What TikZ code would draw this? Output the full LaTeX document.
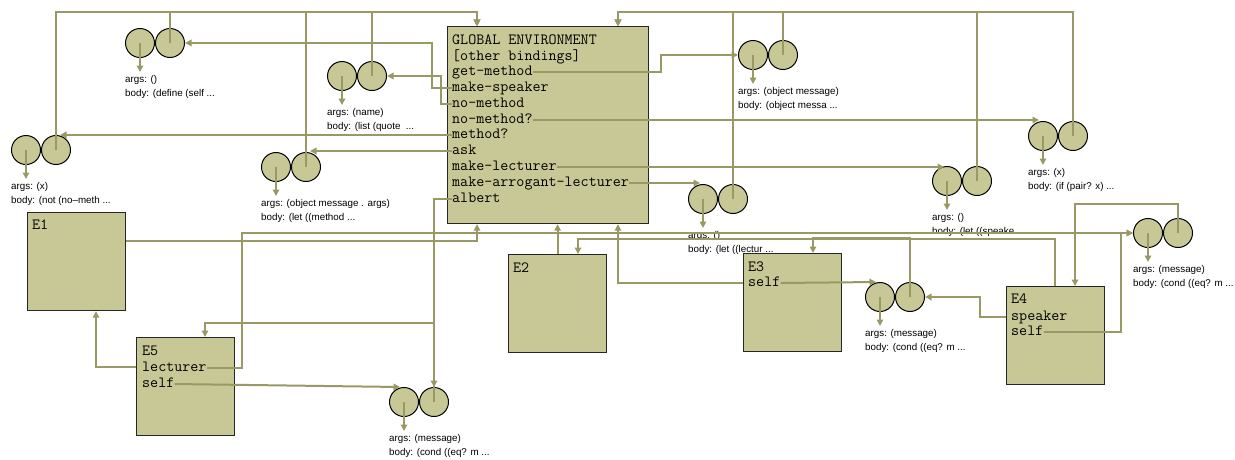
\documentclass[tikz,border=0pt]{standalone}
\usepackage{fontspec}
\setsansfont{Liberation Sans}
\usetikzlibrary{arrows.meta,calc}
\definecolor{ln}{RGB}{153,153,102}
\definecolor{fl}{RGB}{200,200,150}
\newcommand\procpair[5]{%
  \node[cell] (#1l) at (#2,#3) {};
  \node[cell] (#1r) at ($(#1l)+(30,0)$) {};
  \node[lab] (#1a) at ($(#1l)+(-15,37)$) {args: #4};
  \node[lab] (#1b) at ($(#1l)+(-15,51)$) {body: #5};
  \coordinate (#1t) at ($(#1l)+(0,29)$);
}
\begin{document}
\begin{tikzpicture}[x=1pt,y=-1pt,
  ptr/.style={draw=ln, line width=2pt, -{Triangle[length=6.5pt,width=6.5pt]}},
  frame/.style={draw=black!85, fill=fl, line width=1.2pt, minimum width=98pt, minimum height=98pt, inner sep=0pt, anchor=north west},
  cell/.style={circle, draw=black, fill=fl, line width=1pt, minimum size=29pt, inner sep=0pt},
  lab/.style={font=\sffamily\fontsize{9.8pt}{11pt}\selectfont, anchor=west, inner sep=0pt, text height=7pt, text depth=2pt},
  bind/.style={font=\ttfamily\fontsize{15.6pt}{16pt}\selectfont, anchor=west, inner sep=0pt, text height=9pt, text depth=3pt}]
\useasboundingbox (0,0) rectangle (1235,459);

% frames
\node[frame, minimum width=201pt, minimum height=197pt] (G) at (447,26) {};
\node[frame] (E1) at (27,212) {};
\node[frame] (E2) at (508,254) {};
\node[frame] (E3) at (743,253) {};
\node[frame] (E4) at (1006,286) {};
\node[frame] (E5) at (136,337) {};

% global bindings
\node[bind] (gh) at (452,41) {GLOBAL ENVIRONMENT};
\node[bind] (ob) at (452,57) {[other bindings]};
\node[bind] (gm) at (452,72) {get-method};
\node[bind] (ms) at (452,88) {make-speaker};
\node[bind] (nm) at (452,104) {no-method};
\node[bind] (nmq) at (452,120) {no-method?};
\node[bind] (mq) at (452,135) {method?};
\node[bind] (ask) at (452,151) {ask};
\node[bind] (ml) at (452,167) {make-lecturer};
\node[bind] (mal) at (452,183) {make-arrogant-lecturer};
\node[bind] (alb) at (452,199) {albert};

% frame texts
\node[bind] (e1n) at ($(E1.north west)+(5,14)$) {E1};
\node[bind] (e2n) at ($(E2.north west)+(5,15)$) {E2};
\node[bind] (e3n) at ($(E3.north west)+(5,15)$) {E3};
\node[bind] (e3s) at ($(E3.north west)+(5,30)$) {self};
\node[bind] (e4n) at ($(E4.north west)+(5,14)$) {E4};
\node[bind] (e4sp) at ($(E4.north west)+(5,31)$) {speaker};
\node[bind] (e4s) at ($(E4.north west)+(5,46)$) {self};
\node[bind] (e5n) at ($(E5.north west)+(6,15)$) {E5};
\node[bind] (e5l) at ($(E5.north west)+(6,31)$) {lecturer};
\node[bind] (e5s) at ($(E5.north west)+(6,47)$) {self};

% procedure objects
\procpair{P1}{140}{43}{()}{(define (self ...}
\procpair{P2}{342}{76}{(name)}{(list (quote~ ...}
\procpair{P3}{26}{150}{(x)}{(not (no–meth ...}
\procpair{P4}{276}{167}{(object message . args)}{(let ((method ...}
\procpair{P5}{753}{55}{(object message)}{(object messa ...}
\procpair{P6}{703}{199}{()}{(let ((lectur ...}
\procpair{P7}{1043}{136}{(x)}{(if (pair? x) ...}
\procpair{P8}{947}{181}{()}{(let ((speake ...}
\procpair{P9}{1148}{233}{(message)}{(cond ((eq? m ...}
\procpair{P10}{880}{297}{(message)}{(cond ((eq? m ...}
\procpair{P11}{404}{402}{(message)}{(cond ((eq? m ...}

% code pointers
\foreach \p in {P1,P2,P3,P4,P5,P6,P7,P8,P9,P10,P11}
  \draw[ptr] (\p l.center) -- (\p t);

% environment pointers of procedures
\draw[ptr] (P3r.center) |- (477,12) -- (477,0 |- G.north);
\draw[ptr] (P1r.center) |- (477,12) -- (477,0 |- G.north);
\draw[ptr] (P4r.center) |- (477,12) -- (477,0 |- G.north);
\draw[ptr] (P2r.center) |- (477,12) -- (477,0 |- G.north);
\draw[ptr] (P7r.center) |- (618,12) -- (618,0 |- G.north);
\draw[ptr] (P8r.center) |- (618,12) -- (618,0 |- G.north);
\draw[ptr] (P6r.center) |- (618,12) -- (618,0 |- G.north);
\draw[ptr] (P5r.center) |- (618,12) -- (618,0 |- G.north);
\draw[ptr] (P10r.center) |- (813,238) -- (813,0 |- E3.north);
\draw[ptr] (P9r.center) |- (1075,204) -- (1075,0 |- E4.north);
\draw[ptr] (P11r.center) |- (205,323) -- (205,0 |- E5.north);

% frame parent pointers
\draw[ptr] (E1.east |- 0,241) -| (477,0 |- G.south);
\draw[ptr] (E2.north) -- (E2.north |- G.south);
\draw[ptr] (E3.west |- 0,283) -| (618,0 |- G.south);
\draw[ptr] (E4.north -| 1055,0) |- (578,239) -- (578,0 |- E2.north);
\draw[ptr] (E5.west |- 0,367) -| (96,0 |- E1.south);

% global bindings
\draw[ptr] (ms.west) -| (432,43) -- (P1r.east);
\draw[ptr] (nm.west) -| (441,76) -- (P2r.east);
\draw[ptr] (mq.west) -- ($(mq.west -| P3r.north)+(4,0)$);
\draw[ptr] (ask.west) -- ($(ask.west -| P4r.north)+(4,0)$);
\draw[ptr] (gm.east) -| (661,55) -- (P5l.west);
\draw[ptr] (nmq.east) -- ($(nmq.east -| P7l.north)+(-4,0)$);
\draw[ptr] (ml.east) -- ($(ml.east -| P8l.north)+(-3,0)$);
\draw[ptr] (mal.east) -- ($(mal.east -| P6l.north)+(-3,0)$);
\draw[ptr] (alb.west) -| (P11r.north);

% frame bindings
\draw[ptr] (e3s.east) -- ($(P10l.north)+(-4,0)$);
\draw[ptr] (E4.west |- e4sp.west) -| (980,297) -- (P10r.east);
\draw[ptr] (e4s.east) -| (1121,233) -- (P9l.west);
\draw[ptr] (e5l.east) -| (242,233) -- (P9l.west);
\draw[ptr] (e5s.east) -- ($(P11l.north)+(-4,0)$);
\end{tikzpicture}
\end{document}
